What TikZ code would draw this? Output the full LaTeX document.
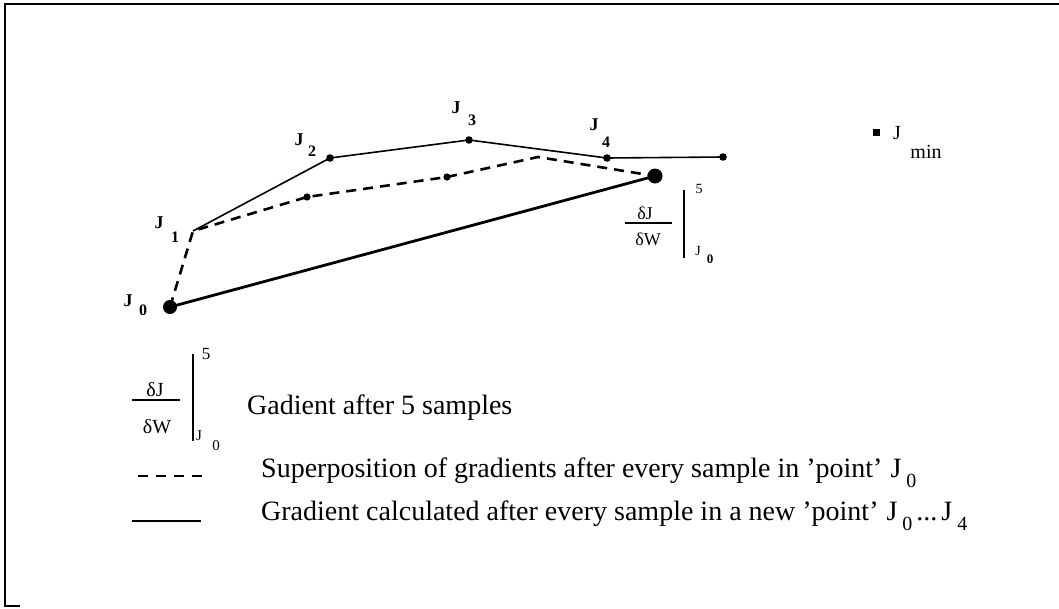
\documentclass[tikz,border=0pt]{standalone}
\usepackage{fontspec}
\setmainfont{Liberation Serif}
\usepackage{graphicx}

\tikzset{
    dot/.style={fill=black},
    jtext/.style={font=\fontsize{18}{20}\selectfont\bfseries, inner sep=0pt},
    jsub/.style={font=\fontsize{16}{18}\selectfont\bfseries, inner sep=0pt},
    smalltext/.style={font=\fontsize{14}{15}\selectfont, inner sep=0pt},
    fractext/.style={font=\fontsize{18}{20}\selectfont, inner sep=0pt},
    legtext/.style={font=\fontsize{28}{30}\selectfont, anchor=base west, inner sep=0pt},
    superpos/.style={dash pattern=on 10pt off 7pt, line width=2.6pt},
}
\newcommand{\jsubtext}[1]{J\hspace{5pt}\raisebox{-10pt}{\fontsize{20}{20}\selectfont #1}}

\begin{document}
\begin{tikzpicture}[x=1pt, y=-1pt]
\useasboundingbox (0,0) rectangle (1059,608);

% frame
\draw[line width=2pt] (20,606) -- (5,606) -- (5,4) -- (1059,4);

% points
\coordinate (J0) at (170,307);
\coordinate (J1) at (193,231);
\coordinate (J2) at (330,158);
\coordinate (J3) at (469,140);
\coordinate (J4) at (607,158);
\coordinate (J5) at (723,157);
\coordinate (S2) at (307,197);
\coordinate (S3) at (447,177);
\coordinate (S4) at (538,157);
\coordinate (G5) at (655,176);

% gradient in a new point after every sample
\draw[line width=1.6pt] (J1) -- (J2) -- (J3) -- (J4) -- (J5);
\foreach \p in {J2,J3,J4,J5}
    \fill[dot] (\p) circle (3.8pt);

% superposition in J0
\draw[superpos, line join=round] (J0) -- (J1) -- (S2) -- (S3) -- (S4) -- (G5);
\foreach \p in {S2,S3}
    \fill[dot] (\p) circle (3.6pt);

% gradient after 5 samples
\draw[line width=2.8pt] (J0) -- (G5);
\fill[dot] (J0) circle (7pt);
\fill[dot] (G5) circle (7.5pt);

% point labels
\node[jtext] (l0) at (128,301) {J};
\node[jsub] (s0) at (143,310) {0};
\node[jtext] (l1) at (159,223) {J};
\node[jsub] (s1) at (175,237) {1};
\node[jtext] (l2) at (299,140) {J};
\node[jsub] (s2) at (312,151) {2};
\node[jtext] (l3) at (456,108) {J};
\node[jsub] (s3) at (472,120) {3};
\node[jtext] (l4) at (594,125) {J};
\node[jsub] (s4) at (606,142) {4};

% minimum
\node[fill=black, inner sep=0pt, minimum size=7pt] (sq) at (876,132) {};
\node[jtext, font=\fontsize{20}{22}\selectfont] (lm) at (897,133) {J};
\node[font=\fontsize{20}{22}\selectfont, inner sep=0pt] (sm) at (926,152) {min};

% dJ/dW at J0 after 5 samples
\begin{scope}
    \node[fractext] (fn) at (645,213) {δJ};
    \node[fractext] (fd) at (648,239) {δW};
    \draw[line width=1.2pt] (625,223) -- (672,223);
    \draw[line width=1.5pt] (684,190) -- (684,258);
    \node[smalltext] (f5) at (699,189) {5};
    \node[smalltext] (fj) at (698,251) {J};
    \node[smalltext, font=\bfseries\fontsize{13}{14}\selectfont] (f0) at (710,259) {0};
\end{scope}

% legend
\begin{scope}
    \node[fractext, font=\fontsize{20}{22}\selectfont] (gn) at (155,390) {δJ};
    \node[fractext, font=\fontsize{20}{22}\selectfont] (gd) at (157,427) {δW};
    \draw[line width=1.6pt] (132,400) -- (180,400);
    \draw[line width=1.6pt] (193,354) -- (193,441);
    \node[smalltext, font=\fontsize{17}{18}\selectfont] (g5) at (206,354) {5};
    \node[smalltext, font=\fontsize{15}{16}\selectfont] (gj) at (199,436) {J};
    \node[smalltext, font=\fontsize{15}{16}\selectfont] (g0) at (216,446) {0};
    \node[legtext] (t1) at (247,414) {Gadient after 5 samples};

    \coordinate (da) at (138,476);
    \coordinate (db) at (206,476);
    \draw[dash pattern=on 10pt off 8pt, line width=2pt] (da) -- (db);
    \node[legtext] (t2) at (261,477) {Superposition of gradients after every sample in 'point'\hspace{8pt}\jsubtext{0}};

    \coordinate (sa) at (132,521);
    \coordinate (sb) at (201,521);
    \draw[line width=2pt] (sa) -- (sb);
    \node[legtext] (t3) at (261,520) {Gradient calculated after every sample in a new 'point'\hspace{8pt}\jsubtext{0}\hspace{4pt}...\hspace{4pt}\jsubtext{4}};
\end{scope}

\end{tikzpicture}
\end{document}
